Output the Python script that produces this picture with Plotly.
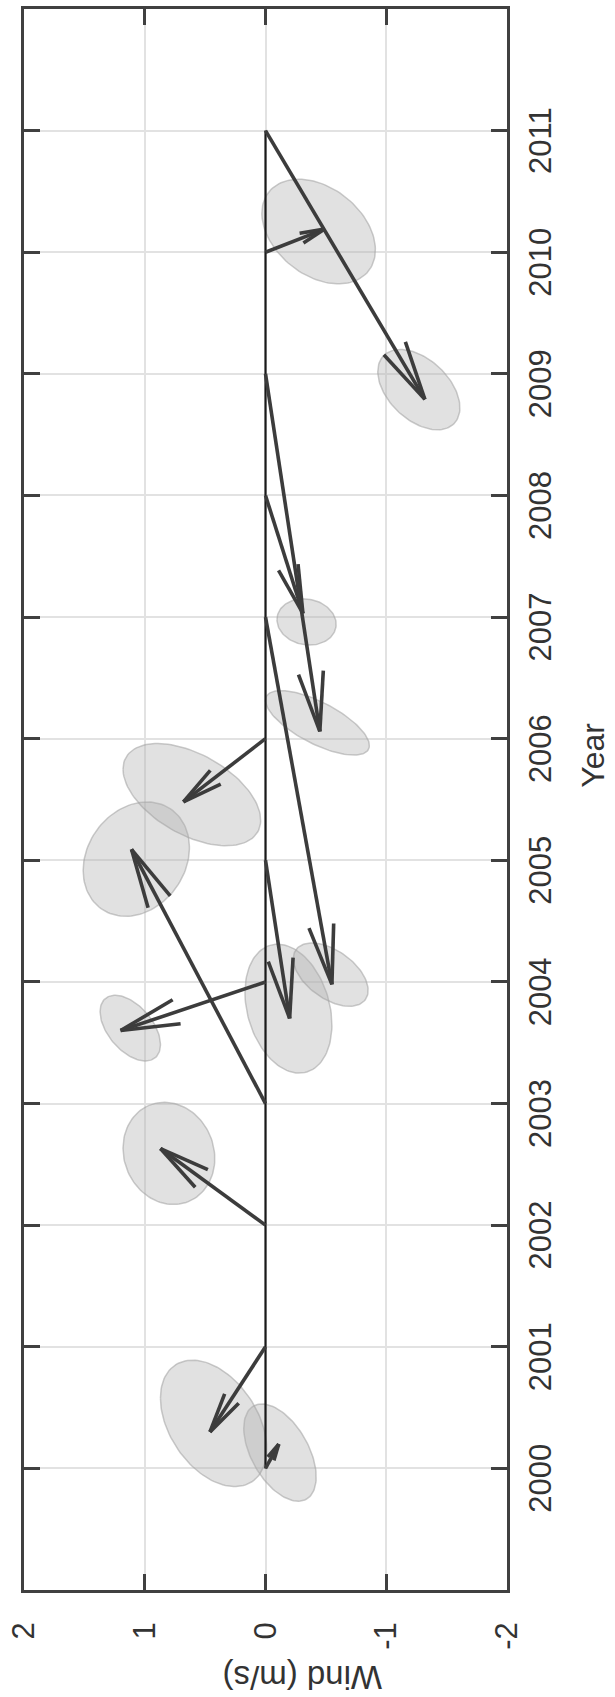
import numpy as np
import plotly.graph_objects as go

# ---------------- data ----------------
years = [2000, 2001, 2002, 2003, 2004, 2005, 2006, 2007, 2008, 2009, 2010, 2011]
# vector components: u along the wind axis (m/s), v along the year axis
vec_u = [-0.11, 0.46, 0.87, 1.11, 1.20, -0.20, 0.68, -0.55, -0.31, -0.45, -0.49, -1.32]
vec_v = [0.20, -0.70, 0.63, 2.09, -0.40, -1.30, -0.52, -3.02, -0.97, -2.94, 0.19, -2.21]

# uncertainty ellipses: centre (wind, year), half extents, correlation
ell_wind = [-0.12, 0.43, 0.80, 1.07, 1.12, -0.19, 0.61, -0.54, -0.34, -0.43, -0.44, -1.27]
ell_year = [2000.13, 2000.37, 2002.59, 2005.01, 2003.62, 2003.78, 2005.54, 2004.06,
            2006.96, 2006.13, 2010.17, 2008.87]
ell_sw = [0.30, 0.44, 0.38, 0.44, 0.25, 0.36, 0.57, 0.31, 0.245, 0.43, 0.47, 0.34]
ell_sy = [0.40, 0.52, 0.42, 0.47, 0.27, 0.53, 0.42, 0.26, 0.19, 0.265, 0.43, 0.33]
ell_rho = [0.5, 0.4, 0.1, -0.2, 0.5, 0.25, 0.5, 0.5, 0.1, 0.7, 0.35, 0.45]

wind_ticks = [2, 1, 0, -1, -2]
wind_tick_text = ["2", "1", "0", "-1", "-2"]
year_range = [1999, 2012]

# ---------------- figure ----------------
fig = go.Figure()

t = np.linspace(0, 2 * np.pi, 120)
for cw, cy, sw, sy, r in zip(ell_wind, ell_year, ell_sw, ell_sy, ell_rho):
    ex = cw + sw * np.cos(t)
    ey = cy + sy * (r * np.cos(t) + np.sqrt(1 - r * r) * np.sin(t))
    fig.add_trace(go.Scatter(x=ex, y=ey, mode="lines", fill="toself",
                             fillcolor="rgba(175,175,175,0.38)",
                             line=dict(color="rgba(160,160,160,0.55)", width=1.5),
                             hoverinfo="skip", showlegend=False))

# zero line
fig.add_trace(go.Scatter(x=[0, 0], y=[years[0], years[-1]], mode="lines",
                         line=dict(color="#1a1a1a", width=2.2),
                         hoverinfo="skip", showlegend=False))

# arrows
ang = np.deg2rad(12)
for yr, u, v in zip(years, vec_u, vec_v):
    x0, y0 = 0.0, yr
    x1, y1 = u, yr + v
    L = np.hypot(u, v)
    h = min(0.5, max(0.14, 0.4 * L))
    bx, by = -u / L, -v / L
    xs = [x0, x1, None]
    ys = [y0, y1, None]
    for s in (ang, -ang):
        rx = bx * np.cos(s) - by * np.sin(s)
        ry = bx * np.sin(s) + by * np.cos(s)
        xs += [x1, x1 + h * rx, None]
        ys += [y1, y1 + h * ry, None]
    fig.add_trace(go.Scatter(x=xs, y=ys, mode="lines",
                             line=dict(color="#3c3c3c", width=3.6),
                             hoverinfo="skip", showlegend=False))

# invisible trace that carries the (slightly offset) year labels
fig.add_trace(go.Scatter(x=[None], y=[None], yaxis="y2", hoverinfo="skip",
                         showlegend=False))

font_family = "Liberation Sans, Arial, Helvetica, sans-serif"
tick_font = dict(family=font_family, size=31, color="#333333")
axis_common = dict(showline=True, linecolor="#404040", linewidth=2.5, mirror="ticks",
                   ticks="inside", ticklen=16, tickwidth=2.5, tickcolor="#404040",
                   showgrid=True, gridcolor="#e2e2e2", gridwidth=2, zeroline=False,
                   tickfont=tick_font)

shift = 0.12  # label offset along the year axis as drawn in the original
fig.update_layout(
    width=615, height=1697,
    margin=dict(l=24, r=108, t=6, b=107),
    plot_bgcolor="white", paper_bgcolor="white",
    showlegend=False,
    xaxis=dict(range=[2, -2], tickvals=wind_ticks, ticktext=wind_tick_text,
               tickangle=-90, ticklabelstandoff=17, **axis_common),
    yaxis=dict(range=year_range, tickvals=years, side="right",
               showticklabels=False, **axis_common),
    yaxis2=dict(range=[year_range[0] + shift, year_range[1] + shift],
                overlaying="y", side="right", tickvals=years,
                showline=False, showgrid=False, zeroline=False, ticks="",
                tickangle=-90, ticklabelstandoff=12, tickfont=tick_font),
    annotations=[
        dict(text="Year", xref="paper", yref="paper", x=1.179, y=0.528,
             xanchor="center", yanchor="middle", textangle=-90, showarrow=False,
             borderpad=0,
             font=dict(family=font_family, size=32, color="#333333")),
        dict(text="Wind (m/s)", xref="paper", yref="paper", x=0.5756, y=-0.0549,
             xanchor="center", yanchor="middle", textangle=180, showarrow=False,
             font=dict(family=font_family, size=33, color="#333333")),
    ],
)

fig.write_html("out.html")
